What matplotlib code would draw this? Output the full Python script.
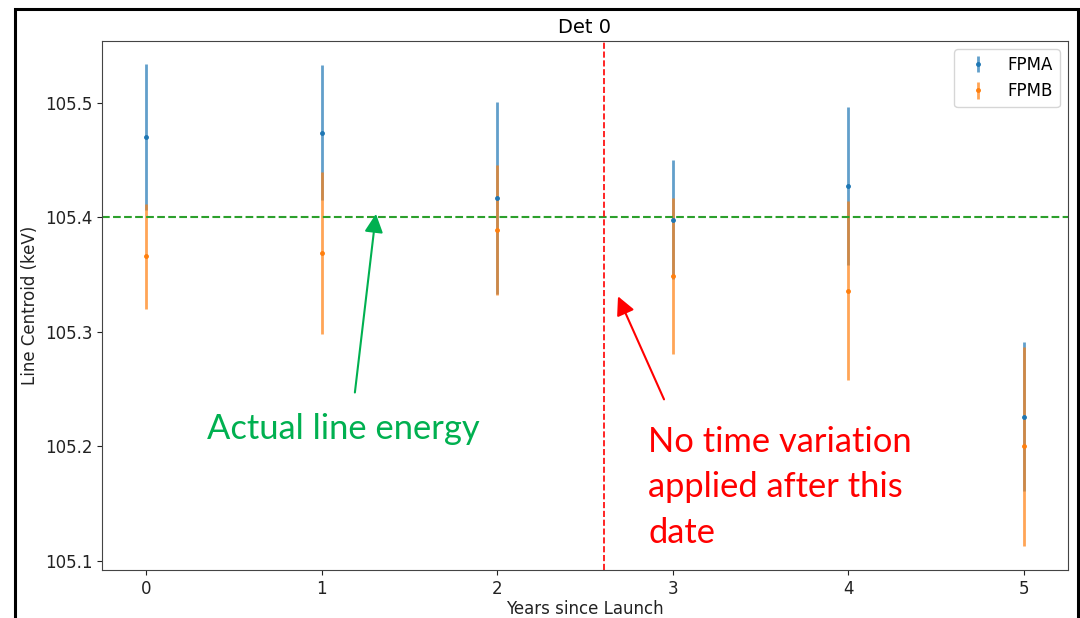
import matplotlib
matplotlib.use('Agg')
import matplotlib.pyplot as plt
from matplotlib.patches import Rectangle

# line centroid per year since launch (keV) with 1-sigma errors
years = [0, 1, 2, 3, 4, 5]
fpma = [105.470, 105.474, 105.417, 105.398, 105.427, 105.226]
fpma_err = [0.064, 0.059, 0.084, 0.052, 0.069, 0.065]
fpmb = [105.366, 105.369, 105.389, 105.349, 105.336, 105.200]
fpmb_err = [0.046, 0.071, 0.057, 0.068, 0.078, 0.087]

line_energy = 105.4
cutoff_year = 2.61

fig = plt.figure(figsize=(10.8, 6.18), dpi=100)
ax = fig.add_axes([0.0944, 0.0777, 0.8945, 0.856])

for vals, errs, color, label in [(fpma, fpma_err, '#1f77b4', 'FPMA'),
                                 (fpmb, fpmb_err, '#ff7f0e', 'FPMB')]:
    cont = ax.errorbar(years, vals, yerr=errs, fmt='.', color=color,
                       markersize=5, elinewidth=2, label=label)
    for col in cont[2]:
        col.set_alpha(0.7)

ax.axhline(line_energy, color='#2ca02c', ls='--', lw=1.5)
ax.axvline(cutoff_year, color='red', ls='--', lw=1.2)

ax.set_xlim(-0.25, 5.25)
ax.set_ylim(105.092, 105.554)
ax.set_yticks([105.1, 105.2, 105.3, 105.4, 105.5])
ax.tick_params(labelsize=12, colors='#222222')
for s in ax.spines.values():
    s.set_color('#444444')

ax.set_title('Det 0', fontsize=14)
ax.set_xlabel('Years since Launch', fontsize=12, labelpad=2, color='#222222')
ax.set_ylabel('Line Centroid (keV)', fontsize=12, color='#222222')
ax.legend(loc='upper right', fontsize=12)

# callouts
ax.annotate('', xy=(1.31, 105.403), xytext=(1.19, 105.247),
            arrowprops=dict(arrowstyle='-|>', color='#00b050', lw=1.5,
                            mutation_scale=28, shrinkA=0, shrinkB=0))
ax.text(0.35, 105.215, 'Actual line energy', color='#00b050',
        family='Lato', fontsize=24.8, va='center', ha='left')

ax.annotate('', xy=(2.688, 105.331), xytext=(2.95, 105.241),
            arrowprops=dict(arrowstyle='-|>', color='red', lw=1.5,
                            mutation_scale=28, shrinkA=0, shrinkB=0))
ax.text(2.86, 105.218, 'No time variation\napplied after this\ndate',
        color='red', family='Lato', fontsize=24.8, va='top', ha='left',
        linespacing=1.52)

# black frame around the whole figure
fig.patches.append(Rectangle((0.0139, -0.1), 0.984, 1.0854, fill=False,
                             edgecolor='black', lw=2.2,
                             transform=fig.transFigure, figure=fig))

fig.savefig('out.png', dpi=100)
